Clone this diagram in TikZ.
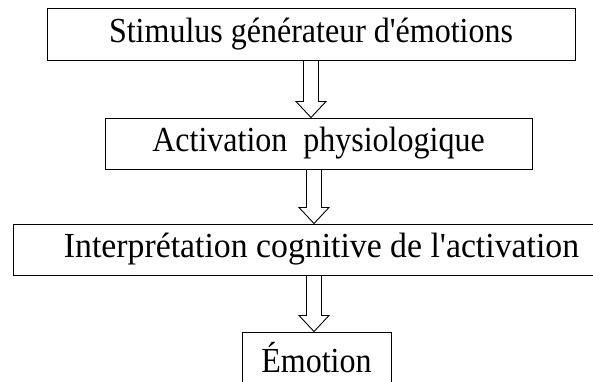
\documentclass[tikz,border=0pt]{standalone}
\usepackage{fontspec}
\setmainfont{Liberation Serif}
\usetikzlibrary{calc}
\tikzset{
  box/.style={draw, line width=1pt, inner sep=0pt, font=\fontsize{32}{36}\selectfont},
  harrow/.style={draw, line width=0.9pt, line join=miter}
}
\newcommand\tall[1]{\scalebox{1}[1.1]{#1}}
\newcommand\hollowarrow[3]{%
  \draw[harrow] ($(#1.south -| #3)+(-7.5,0)$) -- ($(#2.north -| #3)+(-7.5,-16)$)
    -- ($(#2.north -| #3)+(-15,-16)$) -- (#2.north -| #3)
    -- ($(#2.north -| #3)+(15,-16)$) -- ($(#2.north -| #3)+(7.5,-16)$)
    -- ($(#1.south -| #3)+(7.5,0)$);}
\begin{document}
\begin{tikzpicture}[x=1pt,y=-1pt]
\useasboundingbox (0,0) rectangle (593,381);
\node[box, minimum width=528pt, minimum height=52pt] (s) at (311,34) {\tall{Stimulus générateur d\textquotesingle émotions}};
\node[box, minimum width=427pt, minimum height=51pt] (a) at (318.5,143.5) {\tall{Activation\ \ physiologique}};
\node[box, minimum width=617pt, minimum height=51pt] (i) at (321.5,249.5) {\scalebox{1.055}[1.1]{Interprétation cognitive de l\textquotesingle activation}};
\node[box, minimum width=149pt, minimum height=51pt] (e) at (316.5,357.5) {\tall{Émotion}};
\coordinate (x1) at (311,0);
\coordinate (x2) at (314,0);
\coordinate (x3) at (314,0);
\hollowarrow{s}{a}{x1}
\hollowarrow{a}{i}{x2}
\hollowarrow{i}{e}{x3}
\end{tikzpicture}
\end{document}
